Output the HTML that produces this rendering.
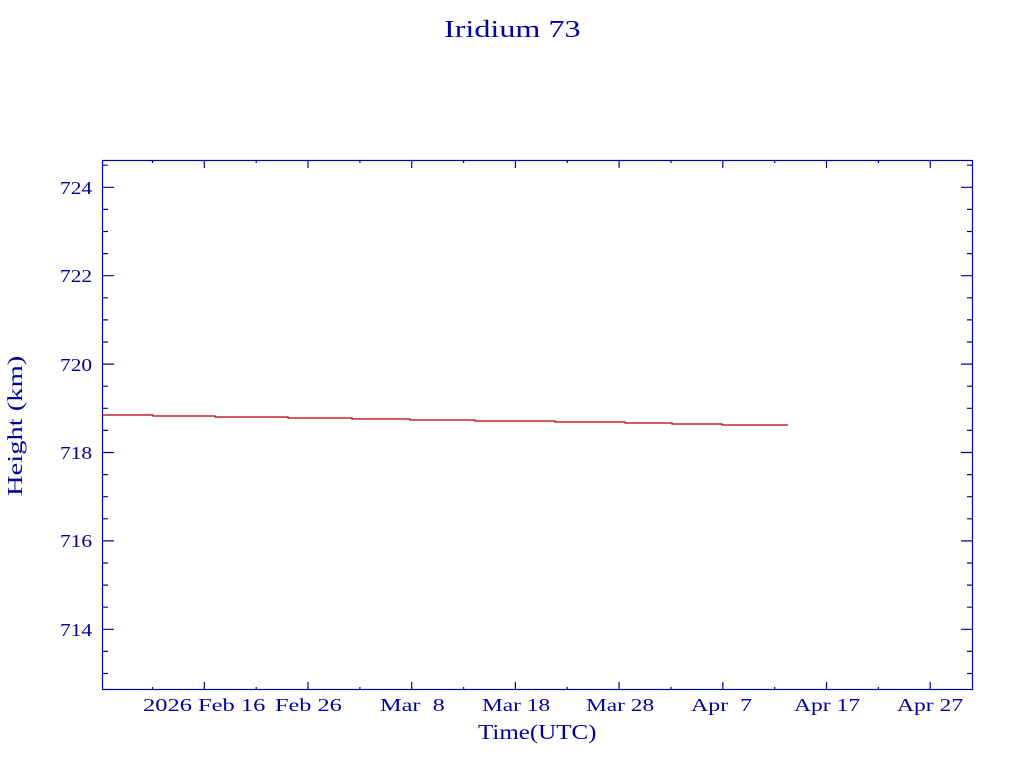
<!DOCTYPE html>
<html><head><style>body{margin:0;background:#fff;}svg{display:block}</style></head><body>
<svg width="1024" height="768" xmlns="http://www.w3.org/2000/svg" font-family="Liberation Serif, serif" fill="#0000a0">
<text transform="translate(444,37) scale(1.34,1)" font-size="24">Iridium 73</text>
<rect x="102.5" y="160.5" width="870" height="529" fill="none" stroke="#0000a0" stroke-width="1.2"/>
<g stroke="#0000a0" stroke-width="1.2">
<path d="M102 187.3h12M973 187.3h-12M102 275.7h12M973 275.7h-12M102 364.1h12M973 364.1h-12M102 452.5h12M973 452.5h-12M102 540.9h12M973 540.9h-12M102 629.3h12M973 629.3h-12"/>
<path d="M102 165.2h6M973 165.2h-6M102 209.4h6M973 209.4h-6M102 231.5h6M973 231.5h-6M102 253.6h6M973 253.6h-6M102 297.8h6M973 297.8h-6M102 319.9h6M973 319.9h-6M102 342h6M973 342h-6M102 386.2h6M973 386.2h-6M102 408.3h6M973 408.3h-6M102 430.4h6M973 430.4h-6M102 474.6h6M973 474.6h-6M102 496.7h6M973 496.7h-6M102 518.8h6M973 518.8h-6M102 563h6M973 563h-6M102 585.1h6M973 585.1h-6M102 607.2h6M973 607.2h-6M102 651.4h6M973 651.4h-6M102 673.5h6M973 673.5h-6"/>
<path d="M204.3 690v-8M204.3 160v8M308 690v-8M308 160v8M411.7 690v-8M411.7 160v8M515.4 690v-8M515.4 160v8M619.1 690v-8M619.1 160v8M722.8 690v-8M722.8 160v8M826.5 690v-8M826.5 160v8M930.2 690v-8M930.2 160v8"/>
<path d="M152.5 690v-3M152.5 160v3M256.2 690v-3M256.2 160v3M359.9 690v-3M359.9 160v3M463.6 690v-3M463.6 160v3M567.3 690v-3M567.3 160v3M671 690v-3M671 160v3M774.7 690v-3M774.7 160v3M878.4 690v-3M878.4 160v3"/>
</g>
<g font-size="18">
<text transform="translate(60,194) scale(1.19,1)">724</text>
<text transform="translate(60,282) scale(1.19,1)">722</text>
<text transform="translate(60,371) scale(1.19,1)">720</text>
<text transform="translate(60,459) scale(1.19,1)">718</text>
<text transform="translate(60,547) scale(1.19,1)">716</text>
<text transform="translate(60,636) scale(1.19,1)">714</text>
</g>
<g font-size="18">
<text transform="translate(143,711) scale(1.36,1)">2026 Feb 16</text>
<text transform="translate(275,711) scale(1.35,1)">Feb 26</text>
<text transform="translate(380,711) scale(1.35,1)">Mar&#160;&#160;8</text>
<text transform="translate(482,711) scale(1.3,1)">Mar 18</text>
<text transform="translate(586,711) scale(1.3,1)">Mar 28</text>
<text transform="translate(691,711) scale(1.33,1)">Apr&#160;&#160;7</text>
<text transform="translate(794,711) scale(1.31,1)">Apr 17</text>
<text transform="translate(897,711) scale(1.31,1)">Apr 27</text>
</g>
<text transform="translate(478,739) scale(1.19,1)" font-size="21">Time(UTC)</text>
<text transform="translate(22,496) rotate(-90) scale(1.36,1)" font-size="21">Height (km)</text>
<path d="M102 415H153V416H215V417H288V418H352V419H410V420H475V421H555V422H625V423H672V424H722V425H788" fill="none" stroke="#b00000" stroke-width="1.2"/>
</svg>
</body></html>
